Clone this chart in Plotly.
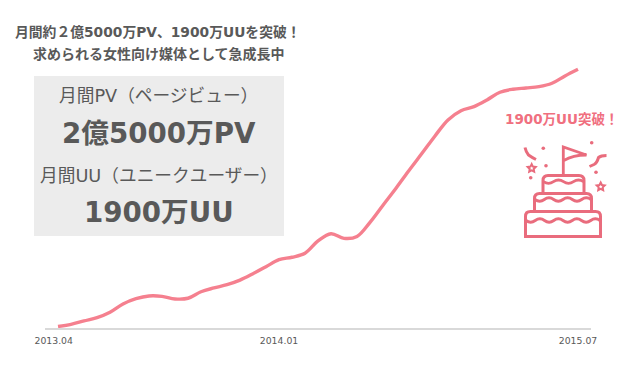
import math
import plotly.graph_objects as go

W, H = 640, 366
FONT = "DejaVu Sans, Noto Sans CJK JP, sans-serif"
TEXT = "#595959"
PINK = "#f5808f"
ICON = "#e96c7d"

# Monthly UU (unit: 10,000 people) at evenly spaced samples
uu_values = [11, 27, 52, 76, 116, 177, 216, 236, 233, 214, 219, 267, 295, 319, 353, 400, 451,
             503, 521, 550, 641, 694, 660, 674, 778, 904, 1029, 1160, 1286, 1414, 1532, 1600,
             1630, 1679, 1736, 1758, 1767, 1777, 1802, 1856, 1905]
samples = list(range(len(uu_values)))
tick_labels = ["2013.04", "2014.01", "2015.07"]
tick_samples = [-0.33, 17, 40]


def px(x):
    return x / W


def py(y):
    return 1 - y / H


def path(cmds):
    out = []
    for c in cmds:
        if isinstance(c, str):
            out.append(c)
        else:
            out.append(f"{px(c[0]):.5f},{py(c[1]):.5f}")
    return " ".join(out)


def line_shape(cmds, width=3.0, fill=None):
    return dict(type="path", xref="paper", yref="paper", path=path(cmds),
                line=dict(color=ICON, width=width),
                fillcolor=fill if fill else "rgba(0,0,0,0)")


def tier(x0, x1, top, bottom, r=5):
    return line_shape(["M", (x0, bottom), "L", (x0, top + r), "Q", (x0, top), (x0 + r, top),
                       "L", (x1 - r, top), "Q", (x1, top), (x1, top + r), "L", (x1, bottom), "Z"])


def wave(x0, x1, y, humps, amp=3.4):
    step = (x1 - x0) / (2 * humps)
    cmds = ["M", (x0, y)]
    for i in range(2 * humps):
        sign = 1 if i % 2 == 0 else -1
        cmds += ["Q", (x0 + step * (i + 0.5), y + sign * amp), (x0 + step * (i + 1), y)]
    return line_shape(cmds, width=2.8)


def dot(x, y, r=1.8):
    return dict(type="circle", xref="paper", yref="paper",
                x0=px(x - r), x1=px(x + r), y0=py(y + r), y1=py(y - r),
                line=dict(width=0), fillcolor=ICON)


def star(cx, cy, r=4.2):
    cmds = []
    for i in range(10):
        a = -math.pi / 2 + i * math.pi / 5
        rad = r if i % 2 == 0 else r * 0.5
        cmds += ["M" if i == 0 else "L", (cx + rad * math.cos(a), cy + rad * math.sin(a))]
    cmds.append("Z")
    return line_shape(cmds, width=2.0)


shapes = [
    dict(type="rect", xref="paper", yref="paper", layer="below",
         x0=px(34), x1=px(284), y0=py(236), y1=py(76), fillcolor="#ececec", line=dict(width=0)),
    tier(525.5, 600.5, 211.5, 236.5),
    tier(534.5, 591.5, 193.5, 211.5),
    tier(543, 584, 175.5, 193.5),
    wave(526, 600, 220.5, 4),
    wave(535, 591, 199.5, 3),
    wave(543.5, 583.5, 181.7, 2),
    line_shape(["M", (563.3, 175), "L", (563.3, 147), "L", (586.5, 155),
                "Q", (573, 155), (563.8, 160.5)], width=2.8),
    line_shape(["M", (525, 147.5), "Q", (526, 152), (528.5, 155), "Q", (532, 157.5), (536, 159.5)], width=3.0),
    line_shape(["M", (606.5, 155.5), "Q", (601, 155.5), (598.5, 157.5), "Q", (597, 163), (594, 164.5),
                "L", (589.5, 166.5)], width=3.0),
    dot(543.3, 148.3), dot(591.7, 142.7), dot(546, 165.7), dot(530.7, 177.7), dot(596, 172.3),
    star(531.7, 168.3), star(600.7, 186.7),
]


def note(text, x, y, size, bold=False, color=TEXT):
    return dict(text=f"<b>{text}</b>" if bold else text, x=px(x), y=py(y), xref="paper", yref="paper",
                xanchor="center", yanchor="middle", showarrow=False,
                font=dict(family=FONT, size=size, color=color))


annotations = [
    note("月間約２億5000万PV、1900万UUを突破！", 157.5, 31.5, 13.8, True),
    note("求められる女性向け媒体として急成長中", 158.5, 53.5, 14, True),
    note("月間PV（ページビュー）", 158.5, 96, 17.7),
    note("2億5000万PV", 158.5, 133, 27.7, True),
    note("月間UU（ユニークユーザー）", 159, 175.5, 17.7),
    note("1900万UU", 159, 212, 27.7, True),
    note("1900万UU突破！", 561.5, 119.5, 13.5, True, "#f0707f"),
]

fig = go.Figure(go.Scatter(x=samples, y=uu_values, mode="lines",
                           line=dict(color=PINK, width=3.4, shape="spline", smoothing=1),
                           hoverinfo="skip", cliponaxis=False))
fig.update_layout(
    template="none",
    width=W, height=H, autosize=False,
    margin=dict(l=0, r=0, t=0, b=0, pad=0, autoexpand=False),
    paper_bgcolor="white", plot_bgcolor="white",
    showlegend=False,
    shapes=shapes, annotations=annotations,
    xaxis=dict(domain=[45 / W, 591 / W], range=[-1, 41], showgrid=False, zeroline=False,
               automargin=False,
               showline=True, linecolor="#d9d9d9", linewidth=2,
               tickmode="array", tickvals=tick_samples, ticktext=tick_labels, ticks="", ticklen=0,
               tickangle=0, ticklabelstandoff=3, tickfont=dict(family=FONT, size=9.3, color=TEXT)),
    yaxis=dict(domain=[1 - 328 / H, 1], range=[0, 2415], visible=False, automargin=False),
)
fig.write_html("out.html", config=dict(displayModeBar=False),
               post_script="document.body.style.margin='0';document.documentElement.style.overflow='hidden';")
